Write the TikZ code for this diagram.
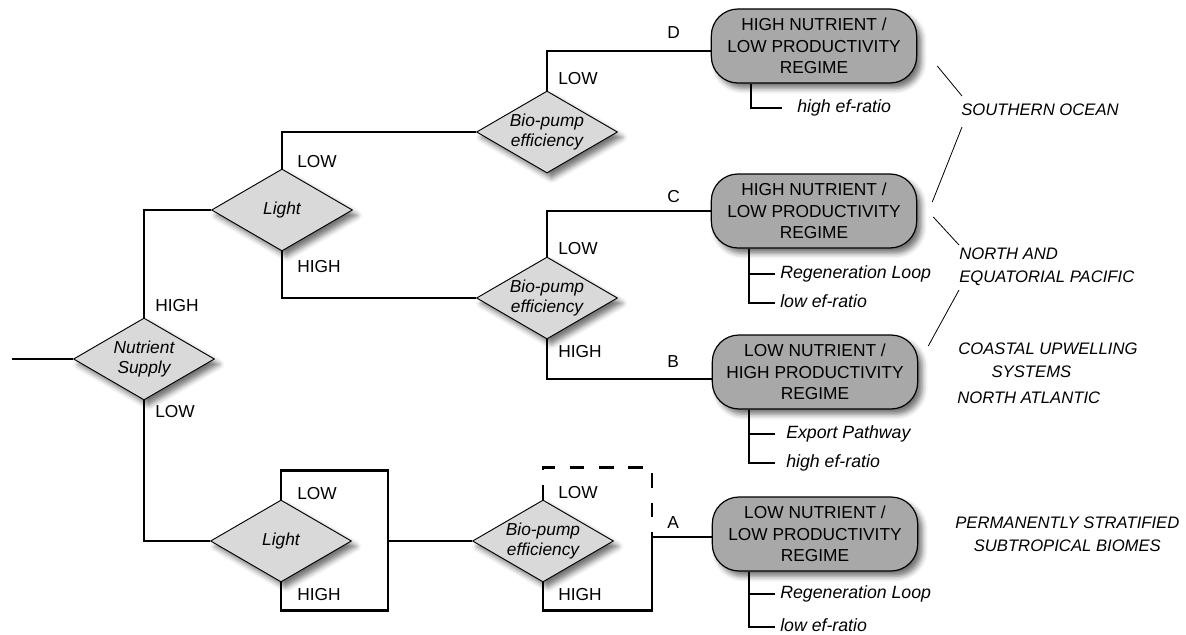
\documentclass[tikz,border=0pt]{standalone}
\usepackage{fontspec}
\setmainfont{Liberation Sans}
\usetikzlibrary{shapes.geometric, shadows.blur, calc}

\definecolor{decisionfill}{RGB}{217,217,217}
\definecolor{regimefill}{RGB}{168,168,168}

\tikzset{
  softshadow/.style={blur shadow={shadow xshift=3.5pt, shadow yshift=-4pt, shadow blur radius=4pt, shadow opacity=55}},
  decision/.style={diamond, aspect=1.72, draw, line width=0.7pt, fill=decisionfill, minimum width=105.75pt, minimum height=61.5pt,
    inner sep=0pt, align=center, font=\fontsize{13}{15}\selectfont\itshape, softshadow},
  regime/.style={rectangle, rounded corners=20pt, draw, line width=0.9pt, fill=regimefill, minimum width=154pt,
    minimum height=55.5pt, inner sep=0pt, align=center, font=\fontsize{13}{16.2}\selectfont, softshadow},
  branch/.style={line width=1.6pt},
  link/.style={line width=0.6pt},
  lbl/.style={anchor=west, inner sep=0pt, font=\fontsize{13}{15}\selectfont},
  item/.style={anchor=west, inner sep=0pt, text height=10pt, text depth=3pt, font=\fontsize{13.3}{15}\selectfont\itshape},
  region/.style={anchor=west, inner sep=0pt, align=left, font=\fontsize{12.5}{17}\selectfont\itshape},
}

\begin{document}
\begin{tikzpicture}[x=0.75pt, y=-0.75pt]
   \useasboundingbox (0,0) rectangle (1186,635);

   % decisions
   \node[decision] (ns) at (144,359) {Nutrient\\Supply};
   \node[decision] (lt1) at (282,210) {Light};
   \node[decision] (lt2) at (281,541) {Light};
   \node[decision] (bp1) at (547,132) {Bio-pump\\efficiency};
   \node[decision] (bp2) at (547,298) {Bio-pump\\efficiency};
   \node[decision] (bp3) at (543,541) {Bio-pump\\efficiency};

   % regimes
   \node[regime] (regD) at (814,46) {HIGH NUTRIENT /\\LOW PRODUCTIVITY\\REGIME};
   \node[regime] (regC) at (814,211) {HIGH NUTRIENT /\\LOW PRODUCTIVITY\\REGIME};
   \node[regime] (regB) at (815,372) {LOW NUTRIENT /\\HIGH PRODUCTIVITY\\REGIME};
   \node[regime] (regA) at (815,534) {LOW NUTRIENT /\\LOW PRODUCTIVITY\\REGIME};

   % tree
   \coordinate (start) at (12,359);
   \coordinate (lj) at (388,541);
   \coordinate (aj) at (652,537);
   \draw[branch] (start) -- (ns.west);
   \draw[branch] (ns.north) |- (lt1.west);
   \draw[branch] (ns.south) |- (lt2.west);
   \draw[branch] (lt1.north) |- (bp1.west);
   \draw[branch] (lt1.south) |- (bp2.west);
   \draw[branch] (bp1.north) |- ([yshift=-3.5pt]regD.west);
   \draw[branch] (bp2.north) |- (regC.west);
   \draw[branch] (bp2.south) |- ([yshift=-5pt]regB.west);
   \draw[branch] (lt2.north) -- ++(0,-29) -| (lj);
   \draw[branch] (lt2.south) -- ++(0,28) -| (lj);
   \draw[branch] (lj) -- (bp3.west);
   \draw[branch, dash pattern=on 11pt off 11pt] (bp3.north) -- ++(0,-32) -| (aj);
   \draw[branch] (bp3.south) -- ++(0,28) -| (aj);
   \draw[branch] (aj) -- (aj -| regA.west);

   % branch labels
   \node[lbl] (nsHi) at (155,306) {HIGH};
   \node[lbl] (nsLo) at (155,412) {LOW};
   \node[lbl] (lt1Lo) at (297,162) {LOW};
   \node[lbl] (lt1Hi) at (297,267) {HIGH};
   \node[lbl] (lt2Lo) at (297,494) {LOW};
   \node[lbl] (lt2Hi) at (297,595) {HIGH};
   \node[lbl] (bp1Lo) at (558,79) {LOW};
   \node[lbl] (bp2Lo) at (558,249) {LOW};
   \node[lbl] (bp2Hi) at (558,352) {HIGH};
   \node[lbl] (bp3Lo) at (558,493) {LOW};
   \node[lbl] (bp3Hi) at (558,595) {HIGH};
   \node[lbl] (tagD) at (667,33) {D};
   \node[lbl] (tagC) at (667,197) {C};
   \node[lbl] (tagB) at (667,362) {B};
   \node[lbl] (tagA) at (667,523) {A};

   % pathways under each regime
   \node[item] (hiD) at (797,108) {high ef-ratio};
   \node[item] (regenC) at (780,274) {Regeneration Loop};
   \node[item] (lowC) at (780,303) {low ef-ratio};
   \node[item] (expB) at (786,434) {Export Pathway};
   \node[item] (hiB) at (786,463) {high ef-ratio};
   \node[item] (regenA) at (780,594) {Regeneration Loop};
   \node[item] (lowA) at (780,627) {low ef-ratio};

   \coordinate (vD) at ($(regD.south west)+(40,0)$);
   \coordinate (vC) at ($(regC.south west)+(38,0)$);
   \coordinate (vB) at ($(regB.south west)+(37,0)$);
   \coordinate (vA) at ($(regA.south west)+(37,0)$);
   \draw[branch] (vD) |- ($(hiD.west)+(-15,0)$);
   \draw[branch] (vC) |- ($(lowC.west)+(-5,0)$);
   \draw[branch] (vC |- regenC.west) -- ($(regenC.west)+(-5,0)$);
   \draw[branch] (vB) |- ($(hiB.west)+(-11,0)$);
   \draw[branch] (vB |- expB.west) -- ($(expB.west)+(-11,0)$);
   \draw[branch] (vA) |- ($(lowA.west)+(-5,0)$);
   \draw[branch] (vA |- regenA.west) -- ($(regenA.west)+(-5,0)$);

   % ocean regions
   \node[region] (so) at (961,110) {SOUTHERN OCEAN};
   \node[region] (nep) at (959,267) {NORTH AND\\EQUATORIAL PACIFIC};
   \node[region] (cus) at (958,360) {COASTAL UPWELLING\\\hspace*{25pt}SYSTEMS};
   \node[region] (na) at (957,398) {NORTH ATLANTIC};
   \node[region, align=center] (pss) at (955,534) {PERMANENTLY STRATIFIED\\SUBTROPICAL BIOMES};

   \draw[link] ([shift={(20,20)}]regD.east) -- ([shift={(1,-14)}]so.west);
   \draw[link] ([shift={(1,17)}]so.west) -- ([shift={(15,-9)}]regC.east);
   \draw[link] ([shift={(16,6)}]regC.east) -- ([shift={(0,-22)}]nep.west);
   \draw[link] ([shift={(0,23)}]nep.west) -- ([shift={(10,-26)}]regB.east);
\end{tikzpicture}
\end{document}
